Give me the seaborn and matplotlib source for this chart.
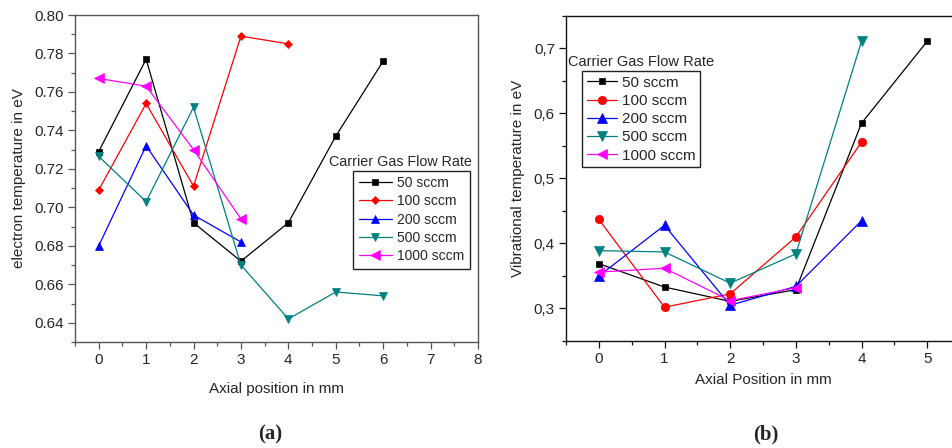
import matplotlib
matplotlib.use("Agg")
import matplotlib.pyplot as plt
import matplotlib.ticker as mticker
import seaborn as sns
import pandas as pd

sns.set_theme(style="ticks")
plt.rcParams['font.family'] = ['Liberation Sans', 'DejaVu Sans']

series_labels = ["50 sccm", "100 sccm", "200 sccm", "500 sccm", "1000 sccm"]
colors = ["#000000", "#ff0000", "#0000ff", "#008080", "#ff00ff"]

# Panel (a): electron temperature
a_x = {
    "50 sccm": [0, 1, 2, 3, 4, 5, 6],
    "100 sccm": [0, 1, 2, 3, 4],
    "200 sccm": [0, 1, 2, 3],
    "500 sccm": [0, 1, 2, 3, 4, 5, 6],
    "1000 sccm": [0, 1, 2, 3],
}
a_y = {
    "50 sccm": [0.729, 0.777, 0.692, 0.672, 0.692, 0.737, 0.776],
    "100 sccm": [0.709, 0.754, 0.711, 0.789, 0.785],
    "200 sccm": [0.680, 0.732, 0.696, 0.682],
    "500 sccm": [0.7265, 0.703, 0.752, 0.670, 0.642, 0.656, 0.654],
    "1000 sccm": [0.767, 0.763, 0.730, 0.694],
}
a_markers = ["s", "D", "^", "v", "<"]

# Panel (b): vibrational temperature
b_x = {
    "50 sccm": [0, 1, 2, 3, 4, 5],
    "100 sccm": [0, 1, 2, 3, 4],
    "200 sccm": [0, 1, 2, 3, 4],
    "500 sccm": [0, 1, 2, 3, 4],
    "1000 sccm": [0, 1, 2, 3],
}
b_y = {
    "50 sccm": [0.369, 0.333, 0.311, 0.329, 0.585, 0.711],
    "100 sccm": [0.437, 0.302, 0.3225, 0.410, 0.556],
    "200 sccm": [0.350, 0.428, 0.305, 0.334, 0.435],
    "500 sccm": [0.389, 0.387, 0.339, 0.384, 0.711],
    "1000 sccm": [0.356, 0.362, 0.312, 0.332],
}
b_markers = ["s", "o", "^", "v", "<"]

W, H = 952, 448
fig = plt.figure(figsize=(W / 100, H / 100), dpi=100)

def frac_box(l, t, r, b):
    return [l / W, 1 - b / H, (r - l) / W, (b - t) / H]

ax1 = fig.add_axes(frac_box(75, 15, 478, 342))
ax2 = fig.add_axes(frac_box(566, 16, 960, 341))

def draw(ax, xs, ys, markers, msizes):
    for lab, col, mk, ms in zip(series_labels, colors, markers, msizes):
        df = pd.DataFrame({"x": xs[lab], "y": ys[lab]})
        sns.lineplot(data=df, x="x", y="y", ax=ax, color=col, marker=mk,
                     markersize=ms, markeredgecolor=col, markeredgewidth=0.5,
                     linewidth=0.9, label=lab, legend=False, sort=False)

draw(ax1, a_x, a_y, a_markers, [5, 4.5, 6, 6, 6.5])
draw(ax2, b_x, b_y, b_markers, [5, 6, 6.5, 6.5, 6.5])

for ax, sc in ((ax1, "#555555"), (ax2, "#111111")):
    for s in ax.spines.values():
        s.set_color(sc)
        s.set_linewidth(1.0)
    ax.tick_params(which="major", direction="out", length=5, width=0.9,
                   color=sc, labelsize=11, pad=3)
    ax.tick_params(which="minor", direction="out", length=3, width=0.9,
                   color=sc)
    ax.tick_params(top=False, right=False, which="both")

ax1.set_xlim(-0.5, 8)
ax1.set_ylim(0.63, 0.80)
ax1.xaxis.set_major_locator(mticker.MultipleLocator(1))
ax1.xaxis.set_minor_locator(mticker.MultipleLocator(0.5))
ax1.yaxis.set_major_locator(mticker.MultipleLocator(0.02))
ax1.yaxis.set_minor_locator(mticker.MultipleLocator(0.01))
ax1.yaxis.set_major_formatter(mticker.FormatStrFormatter("%.2f"))
ax1.set_xlabel("Axial position in mm", fontsize=11, labelpad=11)
ax1.set_ylabel("electron temperature in eV", fontsize=11, labelpad=6)

ax2.set_xlim(-0.5, 5.5)
ax2.set_ylim(0.25, 0.75)
ax2.xaxis.set_major_locator(mticker.MultipleLocator(1))
ax2.xaxis.set_minor_locator(mticker.MultipleLocator(0.5))
ax2.yaxis.set_major_locator(mticker.MultipleLocator(0.1))
ax2.yaxis.set_minor_locator(mticker.MultipleLocator(0.05))
ax2.yaxis.set_major_formatter(mticker.FuncFormatter(lambda v, p: f"{v:.1f}".replace(".", ",")))
ax2.set_xlabel("Axial Position in mm", fontsize=11, labelpad=5)
ax2.set_ylabel("Vibrational temperature in eV", fontsize=11, labelpad=6)

# Legends
h1, l1 = ax1.get_legend_handles_labels()
leg1 = ax1.legend(h1, l1, loc="upper left", bbox_to_anchor=(353 / W, 1 - 170.5 / H),
                  bbox_transform=fig.transFigure, borderaxespad=0, fontsize=10,
                  frameon=True, fancybox=False, edgecolor="#222222", framealpha=1,
                  handlelength=2.4, labelspacing=0.31, borderpad=0.4, handletextpad=0.4)
leg1.get_frame().set_linewidth(1.0)
fig.text(400 / W, 1 - 162 / H, "Carrier Gas Flow Rate", ha="center", va="center", fontsize=10.3)

h2, l2 = ax2.get_legend_handles_labels()
leg2 = ax2.legend(h2, l2, loc="upper left", bbox_to_anchor=(582 / W, 1 - 71 / H),
                  bbox_transform=fig.transFigure, borderaxespad=0, fontsize=11,
                  frameon=True, fancybox=False, edgecolor="#222222", framealpha=1,
                  handlelength=2.0, labelspacing=0.28, borderpad=0.3, handletextpad=0.3)
leg2.get_frame().set_linewidth(1.0)
fig.text(568 / W, 1 - 62 / H, "Carrier Gas Flow Rate", ha="left", va="center", fontsize=10.5)

fig.text(270 / W, 1 - 434 / H, "(a)", ha="center", va="center", fontsize=15,
         fontweight="bold", family=["Liberation Serif", "DejaVu Serif"])
fig.text(766 / W, 1 - 434 / H, "(b)", ha="center", va="center", fontsize=15,
         fontweight="bold", family=["Liberation Serif", "DejaVu Serif"])

fig.savefig("out.png", dpi=100)
